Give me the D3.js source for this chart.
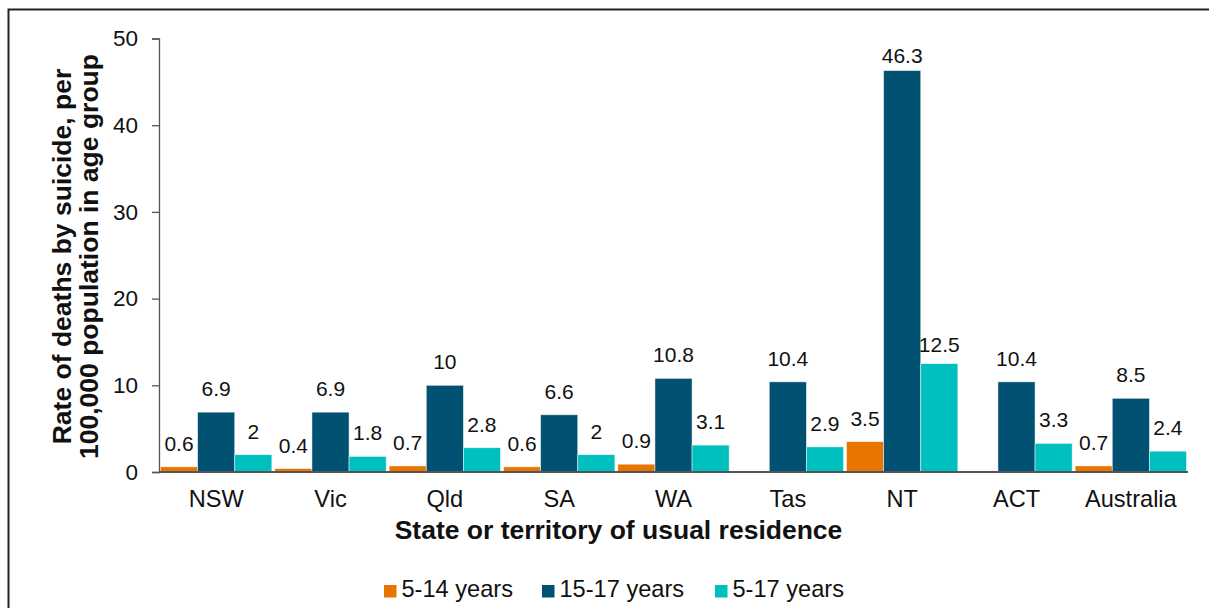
<!DOCTYPE html>
<html><head><meta charset="utf-8">
<script src="https://cdn.jsdelivr.net/npm/d3@7"></script>
<style>body{margin:0;background:#fff;} text{font-family:"Liberation Sans",Arial,sans-serif;}</style>
</head><body>
<svg id="chart" width="1209" height="608"></svg>
<script>
const categories = ["NSW","Vic","Qld","SA","WA","Tas","NT","ACT","Australia"];
const seriesNames = ["5-14 years","15-17 years","5-17 years"];
const age5to14 = [0.6,0.4,0.7,0.6,0.9,null,3.5,null,0.7];
const age15to17 = [6.9,6.9,10,6.6,10.8,10.4,46.3,10.4,8.5];
const age5to17 = [2,1.8,2.8,2,3.1,2.9,12.5,3.3,2.4];
const yTicks = [0,10,20,30,40,50];
const colors = ["#e87500","#005172","#00bfbf"];
const series = [age5to14, age15to17, age5to17];

(function(){
const svg = d3.select("#chart");
const FF = "'Liberation Sans',Arial,sans-serif";
// frame
svg.append("rect").attr("x",8.5).attr("y",9.5).attr("width",1210).attr("height",620)
  .attr("fill","none").attr("stroke","#222").attr("stroke-width",2);

const pLeft=159, pRight=1188, pTop=38.5, pBottom=472;
const x = d3.scaleBand().domain(categories).range([pLeft,pRight]).paddingInner(0.026).paddingOuter(0.013);
const xs = d3.scaleBand().domain(seriesNames).range([0,x.bandwidth()]);
const y = d3.scaleLinear().domain([0,50]).range([pBottom,pTop]);

// NT labels sit closer to their bars in the reference
const labelGap = (c,si)=> c==="NT" ? [16,8,12][si] : 16;

// bars
series.forEach((vals,si)=>{
  const g = svg.append("g");
  const data = categories.map((c,i)=>({c,v:vals[i]})).filter(d=>d.v!=null);
  g.selectAll("rect").data(data).enter().append("rect")
    .attr("x",d=>x(d.c)+xs(seriesNames[si]))
    .attr("y",d=>y(d.v))
    .attr("width",xs.bandwidth())
    .attr("height",d=>y(0)-y(d.v))
    .attr("fill",colors[si])
    .attr("stroke","rgba(255,255,255,0.6)").attr("stroke-width",0.8);
  g.selectAll("text").data(data).enter().append("text")
    .attr("x",d=>x(d.c)+xs(seriesNames[si])+xs.bandwidth()/2)
    .attr("y",d=>y(d.v)-labelGap(d.c,si))
    .attr("text-anchor","middle").attr("font-size",21).attr("fill","#111")
    .text(d=>d.v);
});

// y axis
const ya = svg.append("g").attr("transform",`translate(${pLeft},0)`)
  .call(d3.axisLeft(y).tickValues(yTicks).tickSize(7).tickPadding(14));
ya.select(".domain").attr("stroke","#555").attr("stroke-width",1.3);
ya.selectAll(".tick line").attr("stroke","#555").attr("stroke-width",1.3);
ya.selectAll(".tick text").attr("font-size",22.5).attr("fill","#111").style("font-family",FF);

// x axis
const xa = svg.append("g").attr("transform",`translate(0,${pBottom})`)
  .call(d3.axisBottom(x).tickSize(0).tickPadding(18));
xa.select(".domain").attr("stroke","#555").attr("stroke-width",2).attr("d",`M${pLeft},0H${pRight}`);
xa.selectAll(".tick text").attr("font-size",23.6).attr("fill","#111").style("font-family",FF);

// axis titles
svg.append("text").attr("x",618.5).attr("y",539).attr("text-anchor","middle")
  .attr("font-size",26.5).attr("font-weight","bold").attr("fill","#111")
  .text("State or territory of usual residence");
const yt = svg.append("text").attr("transform","translate(0,256.5) rotate(-90)")
  .attr("text-anchor","middle").attr("font-size",26.5).attr("font-weight","bold").attr("fill","#111");
yt.append("tspan").attr("x",0).attr("y",71).text("Rate of deaths by suicide, per");
yt.append("tspan").attr("x",0).attr("y",98).text("100,000 population in age group");

// legend
const legX = [384,542,715];
const lg = svg.append("g");
seriesNames.forEach((n,i)=>{
  lg.append("rect").attr("x",legX[i]).attr("y",585).attr("width",12.5).attr("height",12.5).attr("fill",colors[i]);
  lg.append("text").attr("x",legX[i]+17.5).attr("y",597).attr("font-size",23.6).attr("fill","#111").text(n);
});
})();
</script>
</body></html>
